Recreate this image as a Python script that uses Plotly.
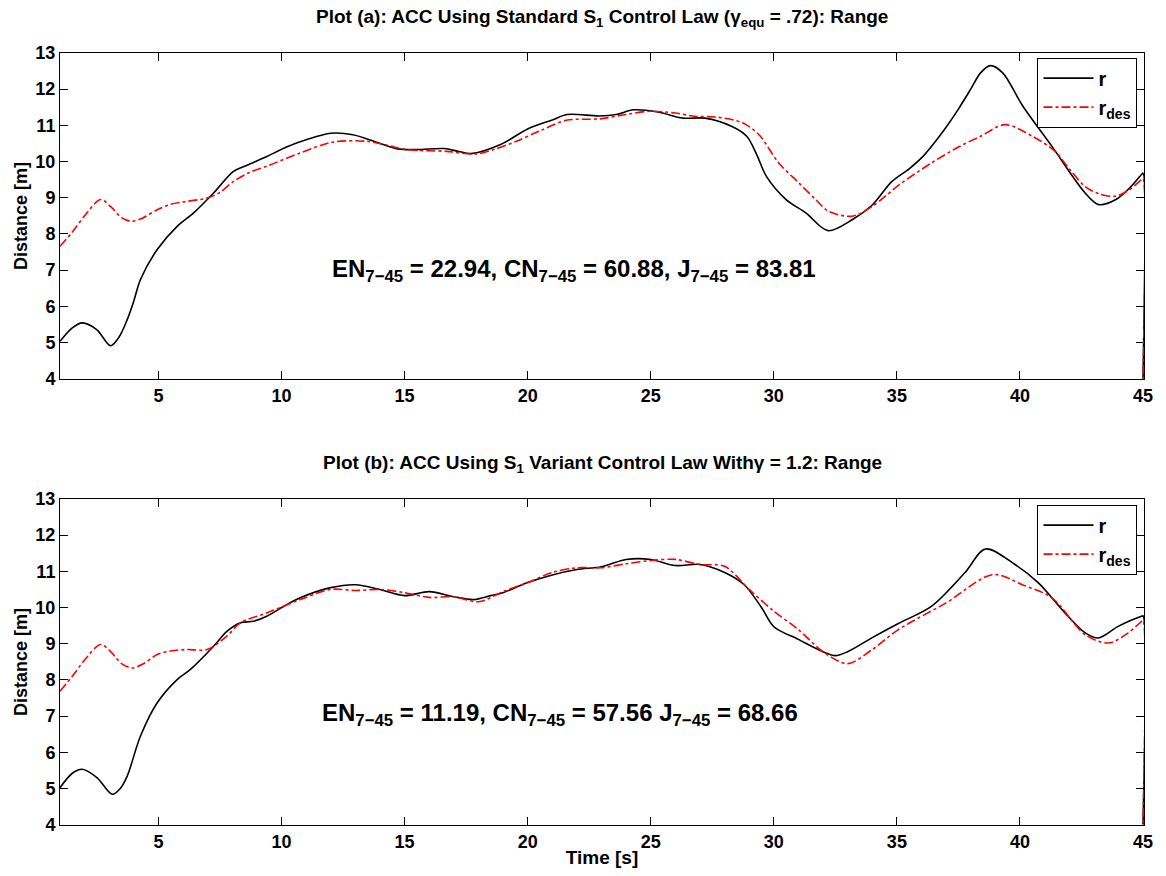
import plotly.graph_objects as go

# ---- Plot (a) data ----
t_r_a = [1, 1.5, 1.9, 2.5, 3.05, 3.4, 3.73, 4.0, 4.27, 4.95, 5.76, 6.43, 7.24, 8.05, 8.6, 9.4, 10.2, 11.0,
         12.0, 12.9, 13.8, 14.7, 15.5, 16.6, 17.2, 17.7, 18.9, 20.0, 21.0, 21.6, 22.9, 23.6, 24.3,
         25.3, 26.3, 27.2, 28.3, 28.9, 29.3, 29.7, 30.5, 31.3, 32.2, 33.2, 34.0, 34.8, 35.5, 36.0, 36.5,
         37.0, 37.5, 38.0, 38.4, 38.8, 39.3, 40.1, 41.3, 42.65, 43.2, 43.9, 44.5, 44.95, 45, 45]
r_a = [5.03, 5.4, 5.54, 5.35, 4.91, 5.15, 5.63, 6.15, 6.74, 7.57, 8.21, 8.58, 9.13, 9.73, 9.9, 10.14, 10.4, 10.6,
       10.78, 10.74, 10.55, 10.35, 10.33, 10.36, 10.28, 10.22, 10.47, 10.9, 11.15, 11.3, 11.26, 11.3, 11.43,
       11.37, 11.2, 11.2, 10.97, 10.7, 10.2, 9.59, 8.95, 8.58, 8.09, 8.40, 8.8, 9.45, 9.8, 10.1, 10.5,
       10.95, 11.45, 12.0, 12.45, 12.65, 12.45, 11.55, 10.42, 9.13, 8.81, 8.95, 9.3, 9.65, 9.68, 4.0]

t_d_a = [1, 1.5, 2.0, 2.65, 3.05, 3.5, 3.87, 4.3, 4.95, 5.5, 6.16, 6.97, 7.5, 8.05, 8.7, 9.4, 10.76,
         12.1, 13.46, 14.3, 15.08, 16.7, 17.92, 18.7, 19.54, 20.5, 21.57, 22.92, 24.0, 24.94, 26.0,
         26.8, 27.65, 28.73, 29.4, 30.2, 31.02, 31.7, 32.24, 33.19, 34.0, 35.1, 36.4, 37.5, 38.4,
         39.4, 40.5, 41.43, 42.0, 42.65, 43.2, 43.86, 44.4, 44.94, 45, 45]
rdes_a = [7.66, 8.05, 8.5, 8.95, 8.76, 8.45, 8.35, 8.42, 8.67, 8.82, 8.9, 8.99, 9.15, 9.45, 9.7, 9.87, 10.24,
          10.54, 10.56, 10.45, 10.33, 10.28, 10.21, 10.35, 10.56, 10.85, 11.14, 11.18, 11.3, 11.39, 11.34,
          11.25, 11.23, 11.07, 10.74, 9.96, 9.41, 8.95, 8.62, 8.49, 8.76, 9.36, 9.96, 10.4, 10.7,
          11.02, 10.70, 10.28, 9.8, 9.31, 9.11, 9.04, 9.2, 9.5, 9.53, 4.0]

# ---- Plot (b) data ----
t_r_b = [1, 1.5, 1.9, 2.5, 3.12, 3.45, 3.73, 4.27, 4.95, 5.76, 6.3, 7.24, 7.78, 8.33, 8.86, 9.4, 10.08,
         10.76, 12, 13, 14, 15, 16, 17, 17.8, 18.5, 19, 20, 21, 22, 23, 24, 25, 26, 27, 28, 28.8, 29.5,
         30, 31, 32, 32.5, 33, 34, 35.06, 36.4, 37.76, 38.6, 39.8, 40.75, 41.83, 42.65, 43.2, 43.99,
         44.94, 45, 45]
r_b = [5.02, 5.42, 5.53, 5.3, 4.84, 5.0, 5.34, 6.45, 7.37, 8.01, 8.29, 8.93, 9.34, 9.58, 9.62, 9.76, 10.03,
       10.27, 10.55, 10.63, 10.5, 10.33, 10.44, 10.3, 10.22, 10.33, 10.41, 10.69, 10.9, 11.05, 11.13, 11.33,
       11.33, 11.16, 11.19, 10.97, 10.63, 10.0, 9.47, 9.12, 8.78, 8.67, 8.78, 9.17, 9.56, 10.03, 10.96,
       11.62, 11.19, 10.68, 9.85, 9.30, 9.16, 9.48, 9.76, 9.77, 4.0]

t_d_b = [1, 1.5, 2.0, 2.65, 3.05, 3.5, 3.93, 4.4, 4.95, 5.5, 6.16, 6.97, 7.78, 8.33, 9.4, 10.76, 12, 13,
         14, 15, 16, 17, 18, 19, 20, 21, 22, 23, 24, 25, 26, 27, 28, 29, 30, 31, 32, 33, 34, 35.06, 37.0,
         38.9, 40.1, 41.3, 42.65, 43.6, 44.4, 44.94, 45, 45]
rdes_b = [7.69, 8.1, 8.55, 8.98, 8.79, 8.45, 8.33, 8.45, 8.70, 8.8, 8.84, 8.84, 9.21, 9.58, 9.85, 10.22,
          10.5, 10.47, 10.5, 10.41, 10.28, 10.3, 10.16, 10.44, 10.69, 10.97, 11.1, 11.1, 11.21, 11.3, 11.33,
          11.19, 11.14, 10.5, 9.9, 9.39, 8.78, 8.45, 8.84, 9.39, 10.13, 10.91, 10.63, 10.27, 9.25, 9.02,
          9.30, 9.62, 9.65, 4.0]

x_ticks = [5, 10, 15, 20, 25, 30, 35, 40, 45]
y_ticks = [4, 5, 6, 7, 8, 9, 10, 11, 12, 13]

title_a = "Plot (a): ACC Using Standard S<sub>1</sub> Control Law (γ<sub>equ</sub> = .72): Range"
title_b = "Plot (b): ACC Using S<sub>1</sub> Variant Control Law Withγ = 1.2: Range"
note_a = "EN<sub>7−45</sub> = 22.94, CN<sub>7−45</sub> = 60.88, J<sub>7−45</sub> = 83.81"
note_b = "EN<sub>7−45</sub> = 11.19, CN<sub>7−45</sub> = 57.56 J<sub>7−45</sub> = 68.66"

FONT = "Liberation Sans"
fig = go.Figure()

def add_pair(t_r, r, t_d, rd, xa, ya, leg):
    fig.add_trace(go.Scatter(x=t_r, y=r, mode="lines", name="r",
                             line=dict(color="black", width=1.6, shape="spline", smoothing=0.9, simplify=False),
                             xaxis=xa, yaxis=ya, legend=leg))
    fig.add_trace(go.Scatter(x=t_d, y=rd, mode="lines", name="r<sub>des</sub>",
                             line=dict(color="red", width=1.6, dash="dashdot", shape="spline", smoothing=0.9,
                                       simplify=False),
                             xaxis=xa, yaxis=ya, legend=leg))

add_pair(t_r_a, r_a, t_d_a, rdes_a, "x", "y", "legend")
add_pair(t_r_b, r_b, t_d_b, rdes_b, "x2", "y2", "legend2")

TICKF = dict(family=FONT, size=18, color="black", weight="bold")
axis_common = dict(range=[1, 45.04], tickvals=x_ticks, ticks="inside", ticklen=8, tickcolor="black",
                   showline=True, linecolor="black", linewidth=1, mirror="ticks", showgrid=False,
                   zeroline=False, tickfont=TICKF, layer="below traces")
yaxis_common = dict(range=[3.99, 13], tickvals=y_ticks, ticks="inside", ticklen=8, tickcolor="black",
                    showline=True, linecolor="black", linewidth=1, mirror="ticks", showgrid=False,
                    zeroline=False, tickfont=TICKF, layer="below traces",
                    title=dict(text="Distance [m]", font=dict(family=FONT, size=18, color="black", weight="bold"),
                               standoff=3))

top_dom = [(825 - 379) / 772, 1.0]
bot_dom = [0.0, (825 - 499) / 772]

legend_common = dict(bgcolor="white", bordercolor="black", borderwidth=1,
                     font=dict(family=FONT, size=20, color="black", weight="bold"),
                     xanchor="right", yanchor="top", tracegroupgap=0, itemwidth=50)

TITLEF = dict(family=FONT, size=19, color="black", weight="bold")
NOTEF = dict(family=FONT, size=24, color="black", weight="bold")

fig.update_layout(
    width=1166, height=876,
    margin=dict(l=60, r=22, t=53, b=51),
    paper_bgcolor="white", plot_bgcolor="white",
    xaxis=dict(axis_common, domain=[0, 1], anchor="y"),
    yaxis=dict(yaxis_common, domain=top_dom, anchor="x"),
    xaxis2=dict(axis_common, domain=[0, 1], anchor="y2",
                title=dict(text="Time [s]", font=dict(family=FONT, size=19, color="black", weight="bold"),
                           standoff=0)),
    yaxis2=dict(yaxis_common, domain=bot_dom, anchor="x2"),
    legend=dict(legend_common, x=0.994, y=0.994),
    legend2=dict(legend_common, x=0.994, y=0.415),
    font=dict(family=FONT, color="black"),
    annotations=[
        dict(text=title_a, x=0.5, y=1.0, xref="paper", yref="paper", yshift=21, showarrow=False,
             xanchor="center", yanchor="bottom", font=TITLEF),
        dict(text=title_b, x=0.5, y=bot_dom[1], xref="paper", yref="paper", yshift=21, showarrow=False,
             xanchor="center", yanchor="bottom", font=TITLEF),
        dict(text=note_a, x=21.9, y=7.0, xref="x", yref="y", showarrow=False,
             xanchor="center", yanchor="middle", font=NOTEF),
        dict(text=note_b, x=21.3, y=7.05, xref="x2", yref="y2", showarrow=False,
             xanchor="center", yanchor="middle", font=NOTEF),
    ],
)

fig.write_html("out.html")
